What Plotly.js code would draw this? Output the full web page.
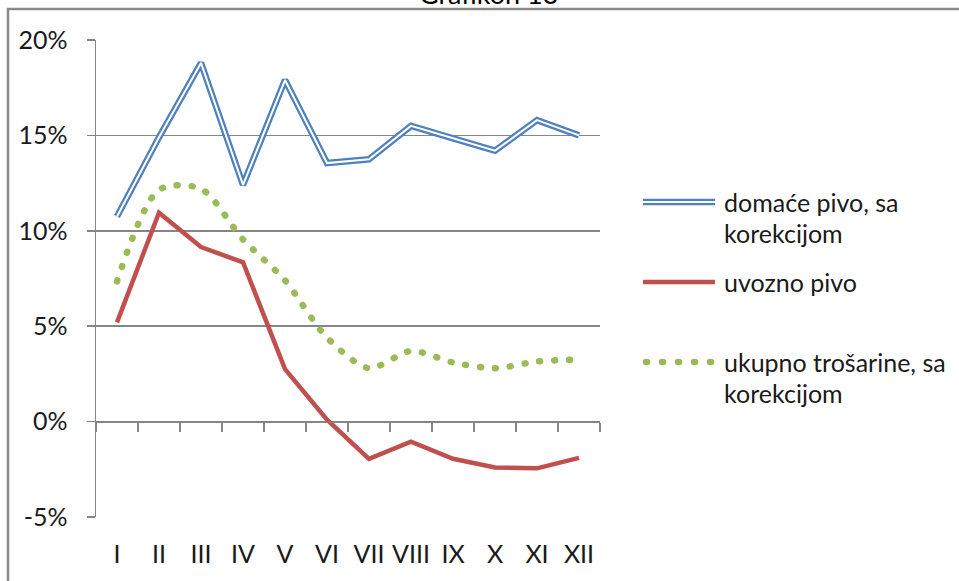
<!DOCTYPE html>
<html>
<head>
<meta charset="utf-8">
<script src="https://cdn.plot.ly/plotly-3.0.1.min.js"></script>
<style>html,body{margin:0;padding:0;background:#fff;}#chart{width:959px;height:581px;}</style>
</head>
<body>
<div id="chart"></div>
<script>
const months = ['I','II','III','IV','V','VI','VII','VIII','IX','X','XI','XII'];
const domacePivo = [10.75, 14.9, 18.8, 12.4, 17.9, 13.55, 13.75, 15.5, 14.85, 14.2, 15.8, 15.0];
const uvoznoPivo = [5.2, 10.95, 9.15, 8.35, 2.75, 0.1, -1.95, -1.05, -1.95, -2.4, -2.45, -1.9];
const ukupnoTrosarine = [7.35, 12.15, 12.2, 9.55, 7.4, 4.4, 2.8, 3.7, 3.1, 2.8, 3.15, 3.25];
const seriesNames = ['domaće pivo, sa\nkorekcijom', 'uvozno pivo', 'ukupno trošarine, sa\nkorekcijom'];
const yTickVals = [-5, 0, 5, 10, 15, 20];
const yTickText = ['-5%', '0%', '5%', '10%', '15%', '20%'];
const chartTitle = 'Grafikon 13';

const FONT = 'Lato, "Open Sans", sans-serif';
const FS = 25;
const GRID = '#868686';
const BLUE = '#4F81BD', RED = '#C0504D', GREEN = '#9BBB59';

// plot-area geometry (pixels) used to place layout decorations
const W = 959, H = 581, ML = 96, MR = 359, MT = 40, MB = 64;
const PW = W - ML - MR, PH = H - MT - MB;
const px2x = px => (px - ML) / PW;
const px2y = py => (H - MB - py) / PH;

const traces = [
  {x: months, y: domacePivo, type: 'scatter', mode: 'lines', name: seriesNames[0],
   line: {color: BLUE, width: 6.5}, hoverinfo: 'skip'},
  {x: months, y: domacePivo, type: 'scatter', mode: 'lines',
   line: {color: '#ffffff', width: 2}, hoverinfo: 'skip'},
  {x: months, y: uvoznoPivo, type: 'scatter', mode: 'lines', name: seriesNames[1],
   line: {color: RED, width: 4.5}, hoverinfo: 'skip'},
  {x: months, y: ukupnoTrosarine, type: 'scatter', mode: 'lines', name: seriesNames[2],
   line: {color: GREEN, width: 6.5, shape: 'spline', smoothing: 0.8, dash: '1px,14px'}, hoverinfo: 'skip'},
  // invisible carrier for the category axis drawn at 0 %
  {x: months, y: uvoznoPivo, xaxis: 'x2', type: 'scatter', mode: 'lines',
   opacity: 0, line: {width: 0}, hoverinfo: 'skip'}
];

// custom legend (symbols + real text)
const legendX0 = px2x(643), legendX1 = px2x(715), legendTextX = px2x(722);
const legendRows = [202, 282, 362];
const LINE_H = 31;
const shapes = [
  {type: 'rect', xref: 'paper', yref: 'paper', x0: px2x(8), x1: 2, y0: -1, y1: px2y(9),
   line: {color: '#8a8a8a', width: 2.5}, fillcolor: 'rgba(0,0,0,0)', layer: 'below'},
  {type: 'line', xref: 'paper', yref: 'paper', x0: legendX0, x1: legendX1, y0: px2y(legendRows[0]), y1: px2y(legendRows[0]),
   line: {color: BLUE, width: 6.5}, layer: 'above'},
  {type: 'line', xref: 'paper', yref: 'paper', x0: legendX0, x1: legendX1, y0: px2y(legendRows[0]), y1: px2y(legendRows[0]),
   line: {color: '#ffffff', width: 2}, layer: 'above'},
  {type: 'line', xref: 'paper', yref: 'paper', x0: legendX0, x1: legendX1, y0: px2y(legendRows[1]), y1: px2y(legendRows[1]),
   line: {color: RED, width: 4.5}, layer: 'above'},
  {type: 'line', xref: 'paper', yref: 'paper', x0: px2x(646), x1: legendX1, y0: px2y(legendRows[2]), y1: px2y(legendRows[2]),
   line: {color: GREEN, width: 6.5, dash: '1px,15px'}, layer: 'above'}
];
const annotations = [
  {text: chartTitle, xref: 'paper', yref: 'paper', x: px2x(488), y: px2y(9), xanchor: 'center',
   yanchor: 'bottom', yshift: -3, showarrow: false, font: {family: FONT, size: 27, color: '#000'}}
];
seriesNames.forEach((name, i) => {
  name.split('\n').forEach((ln, j) => {
    annotations.push({text: ln, xref: 'paper', yref: 'paper', x: legendTextX,
      y: px2y(legendRows[i] + j * LINE_H), xanchor: 'left', yanchor: 'middle', showarrow: false,
      font: {family: FONT, size: FS, color: '#1a1a1a'}});
  });
});

const layout = {
  width: W, height: H,
  margin: {l: ML, r: MR, t: MT, b: MB},
  paper_bgcolor: '#ffffff', plot_bgcolor: '#ffffff',
  font: {family: FONT, size: FS, color: '#1a1a1a'},
  showlegend: false,
  xaxis: {type: 'category', range: [-0.5, 11.5], showgrid: false, showline: false,
          zeroline: false, ticks: '', ticklabelstandoff: 20, fixedrange: true,
          tickfont: {family: FONT, size: FS, color: '#1a1a1a'}},
  xaxis2: {type: 'category', overlaying: 'x', anchor: 'free', position: 0.2, side: 'bottom',
           range: [-0.5, 11.5], tickson: 'boundaries', ticks: 'outside', ticklen: 9,
           tickcolor: GRID, tickwidth: 1.5, showline: true, linecolor: GRID, linewidth: 1.5,
           showticklabels: false, showgrid: false, zeroline: false, fixedrange: true},
  yaxis: {range: [-5, 20], tickmode: 'array', tickvals: yTickVals, ticktext: yTickText,
          showgrid: true, gridcolor: GRID, gridwidth: 1.5, showline: true, linecolor: GRID, linewidth: 1.5,
          ticks: 'outside', ticklen: 8, tickcolor: GRID, tickwidth: 1.5, zeroline: false,
          ticklabelstandoff: 14, fixedrange: true,
          tickfont: {family: FONT, size: FS, color: '#1a1a1a'}},
  shapes: shapes,
  annotations: annotations
};

Plotly.newPlot('chart', traces, layout, {displayModeBar: false, staticPlot: true}).then(gd => {
  // round dots for the dotted series (trace line and legend symbol)
  gd.querySelectorAll('path').forEach(p => {
    const s = p.style.stroke || '';
    if (s.replace(/\s/g, '') === 'rgb(155,187,89)') {
      p.style.strokeLinecap = 'round';
    }
  });
});
</script>
</body>
</html>
